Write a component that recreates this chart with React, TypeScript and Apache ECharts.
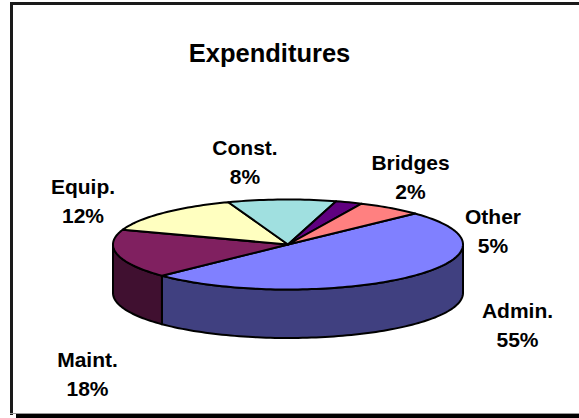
import React, { useEffect, useRef } from "react";
import * as echarts from "echarts";

const categories = ["Admin.", "Maint.", "Equip.", "Const.", "Bridges", "Other"];
const shares = [55, 18, 12, 8, 2, 5];
const topColors = ["#8080FF", "#802060", "#FFFFC0", "#A0E0E0", "#600080", "#FF8080"];
const wallColors = ["#404080", "#401030", "#808060", "#507070", "#300040", "#804040"];
const chartTitle = "Expenditures";

// Text centres for each slice label, in the same order as the categories.
const labelCentres = [
  [517.5, 325],
  [87.5, 374],
  [83, 201],
  [245, 162],
  [410.5, 177],
  [493, 231],
];

const CX = 288;
const CY = 244.5;
const RX = 175;
const RY = 45;
const DEPTH = 48.5;
const START_DEG = 38; // clockwise from the back of the disc
const PERSPECTIVE = 0.8; // squeezes the near half of the disc

const TAU = Math.PI * 2;
const deg = Math.PI / 180;

// Maps an angle on the flat disc (clockwise from the back) to the angle seen after the tilt.
function viewAngle(a: number) {
  const fromFront = a - Math.PI;
  const half = fromFront / 2;
  const turns = Math.round(fromFront / TAU);
  const reduced = half - turns * Math.PI;
  const seen = 2 * Math.atan2(PERSPECTIVE * Math.sin(reduced), Math.cos(reduced));
  return seen + turns * TAU + Math.PI;
}

const rimPoint = (seen: number, drop = 0): number[] => [
  CX + RX * Math.sin(seen),
  CY - RY * Math.cos(seen) + drop,
];

function arcPoints(from: number, to: number, drop = 0) {
  const steps = Math.max(2, Math.ceil(Math.abs(to - from) / (1.5 * deg)));
  const pts: number[][] = [];
  for (let i = 0; i <= steps; i++) pts.push(rimPoint(from + ((to - from) * i) / steps, drop));
  return pts;
}

const total = shares.reduce((s, v) => s + v, 0);

function sliceSpan(index: number) {
  const before = shares.slice(0, index).reduce((s, v) => s + v, 0);
  const from = START_DEG * deg + (before / total) * TAU;
  const to = from + (shares[index] / total) * TAU;
  return [viewAngle(from), viewAngle(to)];
}

const outline = { stroke: "#000", lineWidth: 2, lineJoin: "round" as const };

function renderWalls(params: any, api: any) {
  const i = params.dataIndex;
  api.value(0);
  const [a0, a1] = sliceSpan(i);
  const from = Math.max(a0, Math.PI / 2);
  const to = Math.min(a1, (Math.PI * 3) / 2);
  if (to <= from) return { type: "group", children: [] };
  const upper = arcPoints(from, to);
  const lower = arcPoints(to, from, DEPTH);
  return {
    type: "polygon",
    shape: { points: [...upper, ...lower] },
    style: { fill: wallColors[i], ...outline },
  };
}

function renderTops(params: any, api: any) {
  const i = params.dataIndex;
  api.value(0);
  const [a0, a1] = sliceSpan(i);
  const [x, y] = labelCentres[i];
  return {
    type: "group",
    children: [
      {
        type: "polygon",
        shape: { points: [[CX, CY], ...arcPoints(a0, a1)] },
        style: { fill: topColors[i], ...outline },
      },
      {
        type: "text",
        style: {
          x,
          y,
          text: `${categories[i]}\n${shares[i]}%`,
          fill: "#000",
          font: 'bold 21px "Liberation Sans", Arial, sans-serif',
          lineHeight: 29,
          align: "center",
          verticalAlign: "middle",
        },
      },
    ],
  };
}

export default function App() {
  const ref = useRef<HTMLDivElement>(null);

  useEffect(() => {
    document.body.style.margin = "0";
    const chart = echarts.init(ref.current!, undefined, { renderer: "svg" });
    const rows = shares.map((v) => [v]);
    chart.setOption({
      animation: false,
      backgroundColor: "#fff",
      title: {
        text: chartTitle,
        left: 264.5,
        top: 35,
        textAlign: "center",
        textStyle: {
          color: "#000",
          fontFamily: '"Liberation Sans", Arial, sans-serif',
          fontWeight: "bold",
          fontSize: 25.5,
        },
      },
      graphic: [
        { type: "rect", shape: { x: 10, y: 2, width: 3, height: 413 }, style: { fill: "#1a1a1a" } },
        { type: "rect", shape: { x: 10, y: 2, width: 569, height: 3 }, style: { fill: "#1a1a1a" } },
        { type: "rect", shape: { x: 10, y: 413, width: 569, height: 1 }, style: { fill: "#999" } },
        { type: "rect", shape: { x: 16, y: 414, width: 563, height: 4 }, style: { fill: "#000" } },
      ],
      series: [
        { type: "custom", coordinateSystem: "none", renderItem: renderWalls, data: rows, silent: true, z: 2 },
        { type: "custom", coordinateSystem: "none", renderItem: renderTops, data: rows, silent: true, z: 3 },
      ],
    });
    return () => chart.dispose();
  }, []);

  return <div ref={ref} style={{ width: 579, height: 418 }} />;
}
